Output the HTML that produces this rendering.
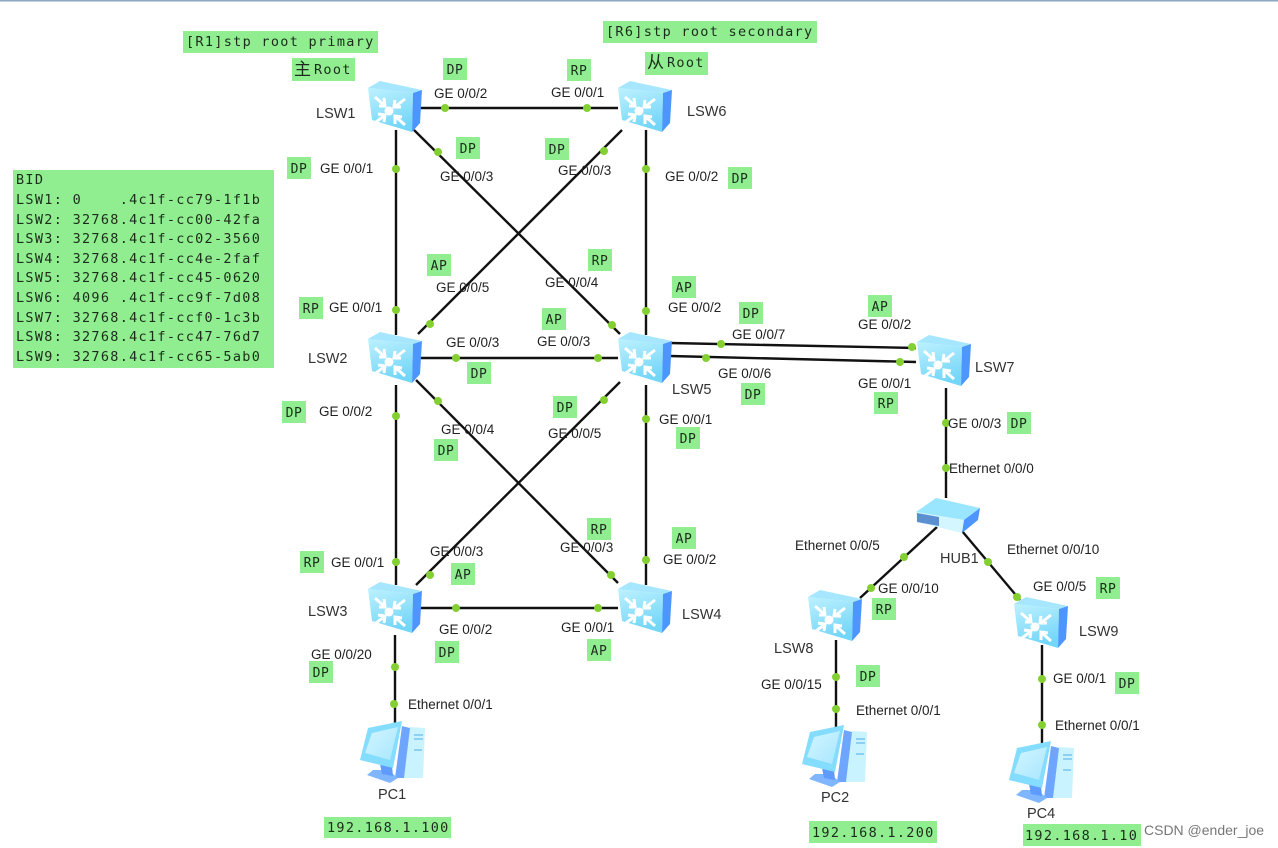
<!DOCTYPE html>
<html>
<head>
<meta charset="utf-8">
<style>
html,body{margin:0;padding:0;background:#fff;width:1278px;height:848px;overflow:hidden}
svg{display:block}
.l{stroke:#111;stroke-width:2.4;fill:none}
.d{fill:#84d032}
.t{font-family:"Liberation Sans",sans-serif;font-size:13.5px;fill:#222}
.n{font-family:"Liberation Sans",sans-serif;font-size:14.5px;fill:#333}
.m{font-family:"DejaVu Sans Mono","Noto Sans CJK SC",monospace;font-size:13.5px;fill:#1c2c1c;letter-spacing:1.3px}
.c{font-family:"Noto Sans CJK SC",sans-serif;font-size:17px;fill:#1c2c1c}
.s{font-family:"DejaVu Sans Mono",monospace;font-size:13px;fill:#1c2c1c;letter-spacing:.6px;text-anchor:middle}
.g{fill:#90ee90}
</style>
</head>
<body>
<svg width="1278" height="848" viewBox="0 0 1278 848" xmlns="http://www.w3.org/2000/svg">
<defs>
<linearGradient id="f" x1="0" y1="0" x2="0.3" y2="1"><stop offset="0" stop-color="#bdf1ff"/><stop offset="1" stop-color="#74d6f8"/></linearGradient>
<linearGradient id="p" x1="0" y1="0" x2="1" y2="1"><stop offset="0" stop-color="#d2f6ff"/><stop offset="1" stop-color="#a8e6ff"/></linearGradient>
<symbol id="sw" width="56" height="52" viewBox="0 0 56 52" overflow="visible">
<polygon points="1,7 13,0 55,9 46,12" fill="#a6e7ff"/>
<polygon points="1,7 46,12 45,51 5,39" fill="url(#f)"/>
<polygon points="46,12 55,9 53,42 45,51" fill="#4d96ff"/>
<circle cx="22" cy="30" r="4.5" fill="#fff"/>
<g stroke="#fff" stroke-width="3" fill="none">
<path d="M8,16 L17,24"/><path d="M12,25 L18,25 L17,17"/>
<path d="M38,18 L29,25"/><path d="M28,19 L27,26 L34,26"/>
<path d="M9,41 L17,35"/><path d="M11,33 L18,34 L17,41"/>
<path d="M38,44 L29,36"/><path d="M28,43 L28,35 L35,36"/>
</g>
</symbol>
<symbol id="pc" width="66" height="62" viewBox="0 0 66 62" overflow="visible">
<polygon points="50,1 65,2 63,52 44,52" fill="#c8f3ff"/>
<polygon points="42,0 50,2 44,52 35,52" fill="#6ea6ff"/>
<path d="M54,9 H63 M54,13 H63 M54,24 H62" stroke="#7bc4ee" stroke-width="1.5"/>
<polygon points="13,44 7,49 30,57 38,52 28,44" fill="#7fb6ff"/>
<polygon points="20,38 32,40 33,50 22,48" fill="#5f9bff"/>
<polygon points="8,2 42,-5 33,42 0,34" fill="#84dcff"/>
<polygon points="12,7 38,1 30,34 5,27" fill="url(#p)"/>
</symbol>
</defs>

<rect x="0" y="0" width="1278" height="1.5" fill="#8ea6c0"/>

<!-- connectors -->
<g class="l">
<path d="M420 108H618"/>
<path d="M396 130V335"/>
<path d="M646 130V335"/>
<path d="M414 130L620 334"/>
<path d="M622 130L418 334"/>
<path d="M420 358H618"/>
<path d="M396 385V585"/>
<path d="M646 385V585"/>
<path d="M416 380L618 583"/>
<path d="M620 382L416 585"/>
<path d="M420 608H618"/>
<path d="M395 635V725"/>
<path d="M670 343L916 348"/>
<path d="M670 356L916 362"/>
<path d="M946 388V498"/>
<path d="M937 527L860 598"/>
<path d="M962 531L1020 600"/>
<path d="M836 640V730"/>
<path d="M1042 645V745"/>
</g>

<!-- dots -->
<g class="d">
<circle cx="445" cy="108" r="4"/><circle cx="587" cy="108" r="4"/>
<circle cx="396" cy="169" r="4"/><circle cx="396" cy="310" r="4"/>
<circle cx="646" cy="169" r="4"/><circle cx="646" cy="311" r="4"/>
<circle cx="438" cy="152" r="4"/><circle cx="612" cy="325" r="4"/>
<circle cx="604" cy="151" r="4"/><circle cx="430" cy="324" r="4"/>
<circle cx="456" cy="358" r="4"/><circle cx="598" cy="358" r="4"/>
<circle cx="396" cy="416" r="4"/><circle cx="396" cy="562" r="4"/>
<circle cx="646" cy="419" r="4"/><circle cx="646" cy="560" r="4"/>
<circle cx="438" cy="401" r="4"/><circle cx="611" cy="575" r="4"/>
<circle cx="604" cy="400" r="4"/><circle cx="430" cy="575" r="4"/>
<circle cx="456" cy="608" r="4"/><circle cx="598" cy="608" r="4"/>
<circle cx="395" cy="667" r="4"/><circle cx="394" cy="704" r="4"/>
<circle cx="721" cy="344" r="4"/><circle cx="912" cy="347" r="4"/>
<circle cx="706" cy="358" r="4"/><circle cx="900" cy="362" r="4"/>
<circle cx="946" cy="423" r="4"/><circle cx="946" cy="468" r="4"/>
<circle cx="904" cy="557" r="4"/><circle cx="871" cy="588" r="4"/>
<circle cx="988" cy="562" r="4"/><circle cx="1017" cy="597" r="4"/>
<circle cx="836" cy="677" r="4"/><circle cx="836" cy="709" r="4"/>
<circle cx="1042" cy="679" r="4"/><circle cx="1042" cy="725" r="4"/>
</g>

<!-- devices -->
<use href="#sw" x="367" y="81"/>
<use href="#sw" x="617" y="81"/>
<use href="#sw" x="367" y="332"/>
<use href="#sw" x="617" y="332"/>
<use href="#sw" x="367" y="582"/>
<use href="#sw" x="617" y="582"/>
<use href="#sw" x="916" y="335"/>
<use href="#sw" x="807" y="590"/>
<use href="#sw" x="1013" y="597"/>

<use href="#pc" x="360" y="726"/>
<use href="#pc" x="802" y="730"/>
<use href="#pc" x="1009" y="746"/>

<!-- hub -->
<polygon points="916,512 936,498 980,508 964,520" fill="#9be6ff"/>
<polygon points="916,512 964,520 962,533 917,522" fill="#d4f6ff"/>
<polygon points="964,520 980,508 978,520 962,533" fill="#4d96ff"/>
<polygon points="917,513 939,517 939,526 917,522" fill="#5b8fd0"/>

<!-- green boxes -->
<g class="g">
<rect x="183" y="31" width="195" height="22"/>
<rect x="292" y="58" width="63" height="23"/>
<rect x="603" y="21" width="214" height="22"/>
<rect x="645" y="52" width="63" height="23"/>
<rect x="13" y="170" width="261" height="198"/>
<rect x="324" y="817" width="127" height="21"/>
<rect x="809" y="821" width="128" height="22"/>
<rect x="1023" y="824" width="118" height="22"/>
<rect x="443" y="58" width="24" height="22"/><rect x="567" y="59" width="24" height="22"/>
<rect x="456" y="137" width="24" height="22"/><rect x="545" y="138" width="24" height="22"/>
<rect x="287" y="157" width="24" height="22"/><rect x="728" y="167" width="24" height="22"/>
<rect x="427" y="254" width="24" height="22"/><rect x="588" y="249" width="24" height="22"/>
<rect x="672" y="276" width="24" height="22"/><rect x="299" y="297" width="24" height="22"/>
<rect x="542" y="308" width="24" height="22"/><rect x="739" y="302" width="24" height="22"/>
<rect x="868" y="295" width="24" height="22"/><rect x="467" y="362" width="24" height="22"/>
<rect x="874" y="392" width="24" height="22"/><rect x="741" y="383" width="24" height="22"/>
<rect x="282" y="401" width="24" height="22"/><rect x="553" y="396" width="24" height="22"/>
<rect x="676" y="427" width="24" height="22"/><rect x="434" y="439" width="24" height="22"/>
<rect x="1007" y="412" width="24" height="22"/><rect x="587" y="518" width="24" height="22"/>
<rect x="672" y="527" width="24" height="22"/><rect x="300" y="551" width="24" height="22"/>
<rect x="451" y="563" width="24" height="22"/><rect x="1096" y="577" width="24" height="22"/>
<rect x="872" y="598" width="24" height="22"/><rect x="309" y="661" width="24" height="22"/>
<rect x="435" y="641" width="24" height="22"/><rect x="587" y="639" width="24" height="22"/>
<rect x="856" y="665" width="24" height="22"/><rect x="1115" y="672" width="24" height="22"/>
</g>

<!-- mono text in boxes -->
<text class="m" x="186" y="46">[R1]stp root primary</text>
<text class="c" x="294" y="75">主</text><text class="m" x="314" y="74">Root</text>
<text class="m" x="606" y="36">[R6]stp root secondary</text>
<text class="c" x="647" y="68">从</text><text class="m" x="667" y="67">Root</text>
<g class="m">
<text x="16" y="184">BID</text>
<text x="16" y="204" xml:space="preserve">LSW1: 0    .4c1f-cc79-1f1b</text>
<text x="16" y="224">LSW2: 32768.4c1f-cc00-42fa</text>
<text x="16" y="243">LSW3: 32768.4c1f-cc02-3560</text>
<text x="16" y="263">LSW4: 32768.4c1f-cc4e-2faf</text>
<text x="16" y="282">LSW5: 32768.4c1f-cc45-0620</text>
<text x="16" y="302">LSW6: 4096 .4c1f-cc9f-7d08</text>
<text x="16" y="322">LSW7: 32768.4c1f-ccf0-1c3b</text>
<text x="16" y="341">LSW8: 32768.4c1f-cc47-76d7</text>
<text x="16" y="361">LSW9: 32768.4c1f-cc65-5ab0</text>
</g>
<text class="m" x="327" y="832">192.168.1.100</text>
<text class="m" x="812" y="837">192.168.1.200</text>
<text class="m" x="1025" y="840">192.168.1.10</text>

<g class="s">
<text x="455" y="74">DP</text><text x="579" y="75">RP</text>
<text x="468" y="153">DP</text><text x="557" y="154">DP</text>
<text x="299" y="173">DP</text><text x="740" y="183">DP</text>
<text x="439" y="270">AP</text><text x="600" y="265">RP</text>
<text x="684" y="292">AP</text><text x="311" y="313">RP</text>
<text x="554" y="324">AP</text><text x="751" y="318">DP</text>
<text x="880" y="311">AP</text><text x="479" y="378">DP</text>
<text x="886" y="408">RP</text><text x="753" y="399">DP</text>
<text x="294" y="417">DP</text><text x="565" y="412">DP</text>
<text x="688" y="443">DP</text><text x="446" y="455">DP</text>
<text x="1019" y="428">DP</text><text x="599" y="534">RP</text>
<text x="684" y="543">AP</text><text x="312" y="567">RP</text>
<text x="463" y="579">AP</text><text x="1108" y="593">RP</text>
<text x="884" y="614">RP</text><text x="321" y="677">DP</text>
<text x="447" y="657">DP</text><text x="599" y="655">AP</text>
<text x="868" y="681">DP</text><text x="1127" y="688">DP</text>
</g>

<!-- port labels -->
<g class="t">
<text x="434" y="98">GE 0/0/2</text><text x="551" y="97">GE 0/0/1</text>
<text x="320" y="173">GE 0/0/1</text><text x="440" y="181">GE 0/0/3</text>
<text x="558" y="175">GE 0/0/3</text><text x="665" y="181">GE 0/0/2</text>
<text x="436" y="292">GE 0/0/5</text><text x="545" y="287">GE 0/0/4</text>
<text x="329" y="312">GE 0/0/1</text><text x="668" y="312">GE 0/0/2</text>
<text x="732" y="339">GE 0/0/7</text><text x="858" y="329">GE 0/0/2</text>
<text x="446" y="347">GE 0/0/3</text><text x="537" y="346">GE 0/0/3</text>
<text x="718" y="378">GE 0/0/6</text><text x="858" y="388">GE 0/0/1</text>
<text x="319" y="416">GE 0/0/2</text><text x="441" y="434">GE 0/0/4</text>
<text x="548" y="438">GE 0/0/5</text><text x="659" y="424">GE 0/0/1</text>
<text x="948" y="428">GE 0/0/3</text><text x="949" y="473">Ethernet 0/0/0</text>
<text x="795" y="550">Ethernet 0/0/5</text><text x="1007" y="554">Ethernet 0/0/10</text>
<text x="430" y="556">GE 0/0/3</text><text x="560" y="552">GE 0/0/3</text>
<text x="663" y="564">GE 0/0/2</text><text x="331" y="567">GE 0/0/1</text>
<text x="878" y="593">GE 0/0/10</text><text x="1033" y="591">GE 0/0/5</text>
<text x="439" y="634">GE 0/0/2</text><text x="561" y="632">GE 0/0/1</text>
<text x="311" y="659">GE 0/0/20</text><text x="761" y="689">GE 0/0/15</text>
<text x="1053" y="683">GE 0/0/1</text><text x="408" y="709">Ethernet 0/0/1</text>
<text x="856" y="715">Ethernet 0/0/1</text><text x="1055" y="730">Ethernet 0/0/1</text>
</g>

<!-- device names -->
<g class="n">
<text x="316" y="118">LSW1</text><text x="687" y="116">LSW6</text>
<text x="308" y="363">LSW2</text><text x="672" y="394">LSW5</text>
<text x="308" y="616">LSW3</text><text x="682" y="619">LSW4</text>
<text x="975" y="372">LSW7</text><text x="940" y="563">HUB1</text>
<text x="774" y="653">LSW8</text><text x="1079" y="636">LSW9</text>
<text x="378" y="799">PC1</text><text x="821" y="802">PC2</text>
<text x="1027" y="818">PC4</text>
</g>
<text x="1144" y="835" font-family="Liberation Sans, sans-serif" font-size="14" fill="#777">CSDN @ender_joe</text>
</svg>
</body>
</html>
